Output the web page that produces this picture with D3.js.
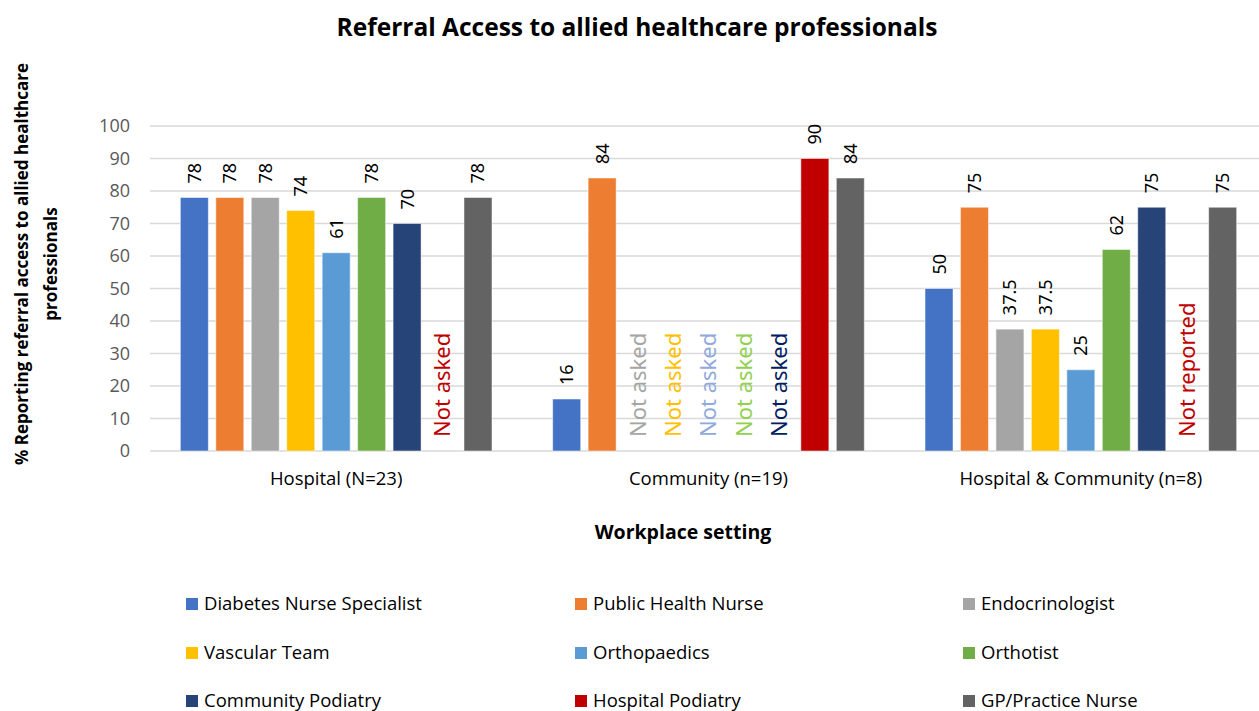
<!DOCTYPE html>
<html>
<head>
<meta charset="utf-8">
<script src="https://cdn.jsdelivr.net/npm/d3@7"></script>
<style>
  body { margin: 0; background: #fff; }
  svg { font-family: "Open Sans", "Noto Sans", sans-serif; }
</style>
</head>
<body>
<svg id="chart" width="1259" height="711"></svg>
<script>
// categories and series
var groups = ["Hospital (N=23)", "Community (n=19)", "Hospital & Community (n=8)"];
var series = ["Diabetes Nurse Specialist", "Public Health Nurse", "Endocrinologist",
  "Vascular Team", "Orthopaedics", "Orthotist", "Community Podiatry",
  "Hospital Podiatry", "GP/Practice Nurse"];

// values per group (null = no bar)
var hospitalValues = [78, 78, 78, 74, 61, 78, 70, null, 78];
var communityValues = [16, 84, null, null, null, null, null, 90, 84];
var bothValues = [50, 75, 37.5, 37.5, 25, 62, 75, null, 75];

// text shown in place of a missing bar
var hospitalNotes = [null, null, null, null, null, null, null, "Not asked", null];
var communityNotes = [null, null, "Not asked", "Not asked", "Not asked", "Not asked", "Not asked", null, null];
var bothNotes = [null, null, null, null, null, null, null, "Not reported", null];

var yTicks = [0, 10, 20, 30, 40, 50, 60, 70, 80, 90, 100];

// colours
var barColors = ["#4472C4", "#ED7D31", "#A5A5A5", "#FFC000", "#5B9BD5", "#70AD47", "#264478", "#C00000", "#636363"];
var noteColors = [null, null, "#A5A5A5", "#FFC000", "#8FAADC", "#92D050", "#002060", "#C00000", null];

var allValues = [hospitalValues, communityValues, bothValues];
var allNotes = [hospitalNotes, communityNotes, bothNotes];

var data = groups.map(function (g, gi) {
  return series.map(function (s, si) {
    return { group: g, key: s, idx: si, value: allValues[gi][si], note: allNotes[gi][si] };
  });
});

var svg = d3.select("#chart");

var plotLeft = 150, plotRight = 1267, plotTop = 126, plotBottom = 451;

var x0 = d3.scaleBand().domain(groups).range([plotLeft, plotRight]).paddingInner(0.143).paddingOuter(0.0715);
var x1 = d3.scaleBand().domain(series).range([0, x0.bandwidth()]).paddingInner(0.21).paddingOuter(0.105);
var y = d3.scaleLinear().domain([0, 100]).range([plotBottom, plotTop]);

// gridlines
svg.append("g")
  .selectAll("line")
  .data(yTicks)
  .enter()
  .append("line")
  .attr("x1", plotLeft).attr("x2", plotRight)
  .attr("y1", function (d) { return y(d); })
  .attr("y2", function (d) { return y(d); })
  .attr("stroke", "#D9D9D9")
  .attr("stroke-width", 1.5);

// y tick labels
svg.append("g")
  .selectAll("text")
  .data(yTicks)
  .enter()
  .append("text")
  .attr("x", 130)
  .attr("y", function (d) { return y(d); })
  .attr("dy", "0.35em")
  .attr("text-anchor", "end")
  .style("font-size", "18px")
  .style("fill", "#595959")
  .text(function (d) { return d; });

// bars
var gGroups = svg.append("g")
  .selectAll("g")
  .data(data)
  .enter()
  .append("g")
  .attr("transform", function (d) { return "translate(" + x0(d[0].group) + ",0)"; });

gGroups.selectAll("rect")
  .data(function (d) { return d.filter(function (e) { return e.value != null; }); })
  .enter()
  .append("rect")
  .attr("x", function (d) { return x1(d.key); })
  .attr("y", function (d) { return y(d.value); })
  .attr("width", x1.bandwidth())
  .attr("height", function (d) { return y(0) - y(d.value); })
  .attr("fill", function (d) { return barColors[d.idx]; })
  .attr("stroke", "#ffffff")
  .attr("stroke-opacity", 0.5)
  .attr("stroke-width", 1);

// value labels
gGroups.selectAll("text.val")
  .data(function (d) { return d.filter(function (e) { return e.value != null; }); })
  .enter()
  .append("text")
  .attr("class", "val")
  .attr("transform", function (d) {
    return "translate(" + (x1(d.key) + x1.bandwidth() / 2) + "," + (y(d.value) - 14) + ") rotate(-90)";
  })
  .attr("dy", "0.36em")
  .attr("text-anchor", "start")
  .style("font-family", "'Noto Sans', sans-serif")
  .style("font-size", "18px")
  .style("fill", "#000")
  .text(function (d) { return d.value; });

// notes for missing bars
gGroups.selectAll("text.note")
  .data(function (d) { return d.filter(function (e) { return e.note != null; }); })
  .enter()
  .append("text")
  .attr("class", "note")
  .attr("transform", function (d) {
    return "translate(" + (x1(d.key) + x1.bandwidth() / 2) + "," + (y(0) - 14) + ") rotate(-90)";
  })
  .attr("dy", "0.36em")
  .attr("text-anchor", "start")
  .style("font-family", "'Noto Sans', sans-serif")
  .style("font-size", "22px")
  .style("fill", function (d) { return noteColors[d.idx]; })
  .text(function (d) { return d.note; });

// category labels
svg.append("g")
  .selectAll("text")
  .data(groups)
  .enter()
  .append("text")
  .attr("x", function (d) { return x0(d) + x0.bandwidth() / 2; })
  .attr("y", 479)
  .attr("dy", "0.35em")
  .attr("text-anchor", "middle")
  .style("font-size", "18.5px")
  .style("fill", "#000")
  .text(function (d) { return d; });

// title
svg.append("text")
  .attr("x", 637).attr("y", 27)
  .attr("dy", "0.35em")
  .attr("text-anchor", "middle")
  .style("font-size", "24.5px")
  .style("font-weight", "bold")
  .text("Referral Access to allied healthcare professionals");

// x axis title
svg.append("text")
  .attr("x", 683).attr("y", 532)
  .attr("dy", "0.35em")
  .attr("text-anchor", "middle")
  .style("font-size", "19.5px")
  .style("font-weight", "bold")
  .text("Workplace setting");

// y axis title (two lines)
var yTitle = svg.append("text")
  .attr("transform", "translate(22,264) rotate(-90)")
  .attr("text-anchor", "middle")
  .style("font-size", "17px")
  .style("font-weight", "bold");
yTitle.append("tspan").attr("x", 0).attr("dy", "0.35em").text("% Reporting referral access to allied healthcare");
yTitle.append("tspan").attr("x", 0).attr("dy", "29px").text("professionals");

// legend
var legendCols = [186, 575, 963];
var legendRows = [604, 653, 701];
var legend = svg.append("g")
  .selectAll("g")
  .data(series)
  .enter()
  .append("g")
  .attr("transform", function (d, i) {
    return "translate(" + legendCols[i % 3] + "," + legendRows[Math.floor(i / 3)] + ")";
  });
legend.append("rect")
  .attr("x", 0).attr("y", -6)
  .attr("width", 12).attr("height", 12)
  .attr("fill", function (d, i) { return barColors[i]; });
legend.append("text")
  .attr("x", 18)
  .attr("dy", "0.35em")
  .style("font-size", "18.5px")
  .style("fill", "#000")
  .text(function (d) { return d; });
</script>
</body>
</html>
